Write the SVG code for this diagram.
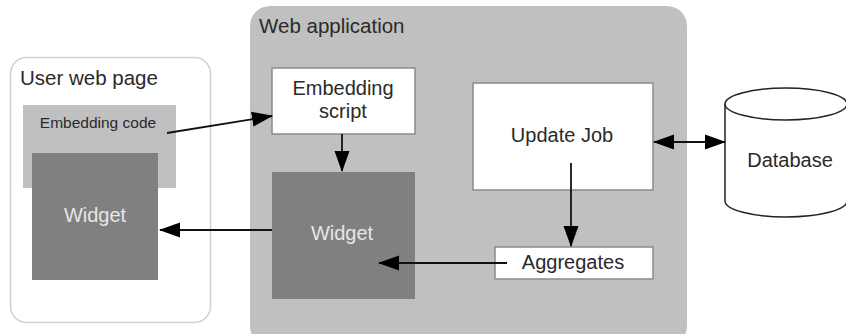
<svg xmlns="http://www.w3.org/2000/svg" width="846" height="334" viewBox="0 0 846 334">
  <style>
    text { font-family: "Liberation Sans", Arial, sans-serif; fill: #2a2a2a; }
    .lbl { font-size: 20px; text-anchor: middle; }
    .title { font-size: 20.5px; }
    .small { font-size: 15.5px; text-anchor: middle; }
    .wtxt { fill: #e6e6e6; }
    .white { fill: #ffffff; stroke: #8a8a8a; stroke-width: 1.5; }
    .widget { fill: #808080; }
    .edge { stroke: #111; stroke-width: 1.8; fill: none; }
  </style>
  <defs>
    <marker id="arrow" viewBox="0 0 21 17" refX="20" refY="8.5" markerWidth="21" markerHeight="17" markerUnits="userSpaceOnUse" orient="auto-start-reverse">
      <path d="M0,1 L21,8.5 L0,16 z" fill="#000"/>
    </marker>
  </defs>

  <g id="user-web-page">
    <rect x="10.5" y="57.5" width="200" height="265" rx="16" fill="#fff" stroke="#cfcfcf" stroke-width="1.5"/>
    <text class="title" x="20" y="85">User web page</text>
  </g>
  <g id="embedding-code">
    <rect x="23" y="105" width="153" height="83" fill="#c0c0c0"/>
    <text class="small" x="98" y="128">Embedding code</text>
  </g>
  <g id="widget-page">
    <rect x="32" y="153" width="126" height="127" class="widget"/>
    <text class="lbl wtxt" x="95" y="222">Widget</text>
  </g>

  <g id="web-application">
    <rect x="250" y="6" width="437" height="340" rx="20" fill="#c0c0c0"/>
    <text class="title" x="259" y="33">Web application</text>
  </g>
  <g id="embedding-script">
    <rect x="272" y="68" width="143" height="66" class="white"/>
    <text class="lbl" x="343" y="95">Embedding</text>
    <text class="lbl" x="343" y="118">script</text>
  </g>
  <g id="widget-app">
    <rect x="272" y="172" width="143" height="127" class="widget"/>
    <text class="lbl wtxt" x="342" y="240">Widget</text>
  </g>
  <g id="update-job">
    <rect x="473" y="83" width="180" height="107" class="white"/>
    <text class="lbl" x="562" y="142">Update Job</text>
  </g>
  <g id="aggregates">
    <rect x="495" y="247" width="158" height="32" class="white"/>
    <text class="lbl" x="573" y="269">Aggregates</text>
  </g>

  <g id="database">
    <path d="M725,104 L725,201 A61,16 0 0 0 847,201 L847,104" fill="#fff" stroke="#222" stroke-width="1.5"/>
    <ellipse cx="786" cy="104" rx="61" ry="16" fill="#fff" stroke="#222" stroke-width="1.5"/>
    <text class="lbl" x="790" y="167">Database</text>
  </g>

  <g id="connectors">
    <line class="edge" x1="167" y1="133" x2="272" y2="116" marker-end="url(#arrow)"/>
    <line class="edge" x1="342" y1="134" x2="342" y2="171" marker-end="url(#arrow)"/>
    <line class="edge" x1="272" y1="230" x2="160" y2="230" stroke="#444" marker-end="url(#arrow)"/>
    <line class="edge" x1="571" y1="163" x2="571" y2="246" marker-end="url(#arrow)"/>
    <line class="edge" x1="507" y1="263" x2="379" y2="263" stroke="#444" marker-end="url(#arrow)"/>
    <line class="edge" x1="654" y1="142" x2="725" y2="142" marker-start="url(#arrow)" marker-end="url(#arrow)"/>
  </g>
</svg>
